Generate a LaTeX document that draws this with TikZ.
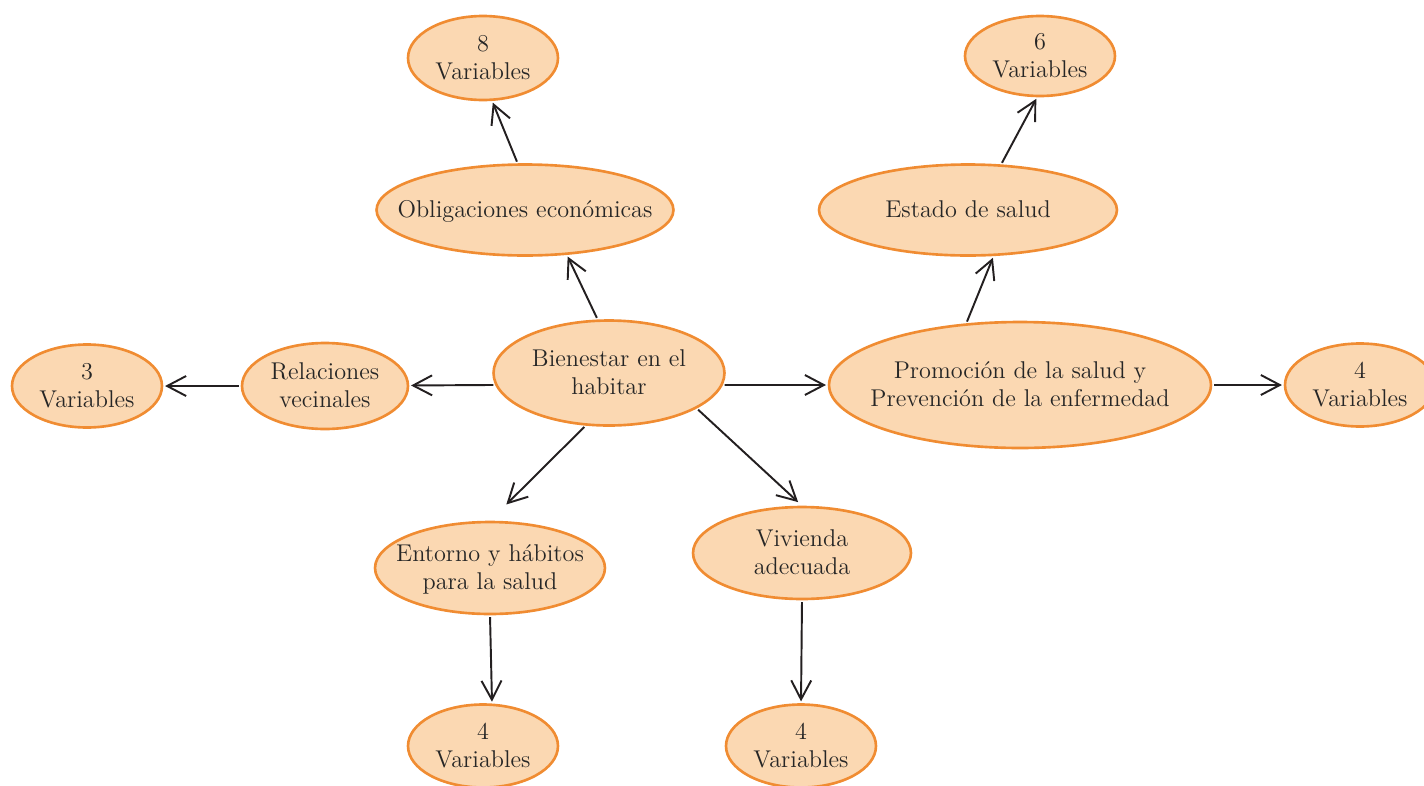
\documentclass[tikz,border=0pt]{standalone}
\usepackage{tikz}
\usetikzlibrary{shapes.geometric,arrows.meta}
\definecolor{ovalfill}{RGB}{251,216,178}
\definecolor{ovaldraw}{RGB}{240,140,50}
\definecolor{linkgray}{RGB}{35,31,32}
\tikzset{
	oval/.style   = {draw=ovaldraw, fill=ovalfill, ellipse, line width=1.5pt,
		inner sep=0pt, text=black!85},
	var/.style    = {oval, minimum width=3cm, minimum height=1.66cm}, % Variables
	link/.style   = {draw=linkgray, line width=1.1pt, shorten <=1pt, shorten >=1pt,
		-{Straight Barb[length=3.8mm,width=4mm]}}
}
\newcommand{\ovaltext}[1]{\makebox[0pt]{\raisebox{-4.5pt}[0pt][0pt]{\begin{tabular}{@{}c@{}}#1\end{tabular}}}}

\begin{document}
\begin{tikzpicture}[x=0.02cm, y=-0.02cm, font=\fontsize{13.8}{16}\selectfont]
\useasboundingbox (0,0) rectangle (1424,785);
\draw
% Center and first ring
node at (609,373)[oval, minimum width=4.62cm, minimum height=2.1cm] (bien) {\ovaltext{Bienestar en el\\habitar}}
node at (525,210)[oval, minimum width=5.94cm, minimum height=1.82cm] (oblig) {\ovaltext{Obligaciones económicas}}
node at (968,210)[oval, minimum width=5.96cm, minimum height=1.82cm] (estado) {\ovaltext{Estado de salud}}
node at (325,386)[oval, minimum width=3.32cm, minimum height=1.72cm] (rel) {\ovaltext{Relaciones\\vecinales}}
node at (1020,385)[oval, minimum width=7.64cm, minimum height=2.52cm] (promo) {\ovaltext{Promoción de la salud y\\Prevención de la enfermedad}}
node at (490,568)[oval, minimum width=4.6cm, minimum height=1.84cm] (entorno) {\ovaltext{Entorno y hábitos\\para la salud}}
node at (802,553)[oval, minimum width=4.36cm, minimum height=1.84cm] (viv) {\ovaltext{Vivienda\\adecuada}};

\draw
% Variables
node at (483,58)[var, minimum height=1.68cm] (v8) {\ovaltext{8\\Variables}}
node at (1040,56)[var, minimum height=1.6cm] (v6) {\ovaltext{6\\Variables}}
node at (87,386)[var] (v3) {\ovaltext{3\\Variables}}
node at (1360,385)[var] (v4r) {\ovaltext{4\\Variables}}
node at (483,746)[var] (v4a) {\ovaltext{4\\Variables}}
node at (801,746)[var] (v4b) {\ovaltext{4\\Variables}};

\draw[link] (bien.102) -- (oblig.-47);
\draw[link] (oblig.99) -- (v8.-78);
\draw[link] (promo.131) -- (estado.-61);
\draw[link] (estado.54) -- (v6.-94);
\draw[link] (bien.186) -- (rel);
\draw[link] (rel) -- (v3);
\draw[link] (bien.-6) -- (promo.west);
\draw[link] (promo) -- (v4r);
\draw[link, shorten >=0.46cm] (bien.246) -- (entorno.north);
\draw[link, shorten >=3pt] (bien.-22) -- (viv.north);
\draw[link] (entorno.south) -- (v4a.78);
\draw[link] (viv.south) -- (v4b.north);
\end{tikzpicture}
\end{document}
